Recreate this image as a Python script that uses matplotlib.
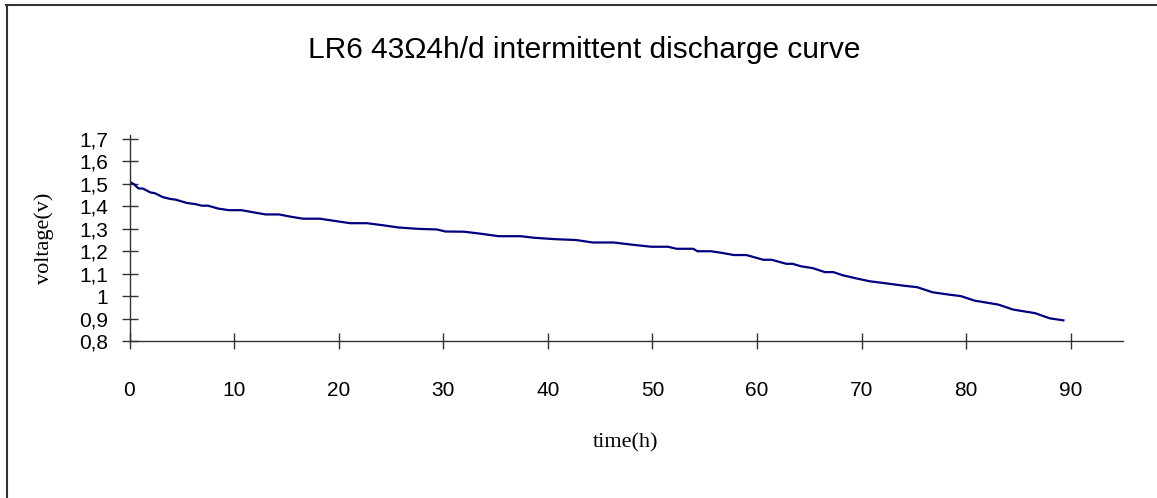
import matplotlib.pyplot as plt
from matplotlib.lines import Line2D

# discharge data
time_h = [0, 0.05, 0.4, 0.85, 1.3, 2.0, 2.4, 3.2, 3.9, 4.4, 5.5, 6.3, 6.9, 7.5,
          8.5, 9.5, 10.7, 11.9, 13.0, 14.3, 15.4, 16.6, 18.2, 19.5, 21.1, 22.7,
          24.2, 25.7, 27.5, 29.4, 30.2, 32.0, 33.6, 35.3, 37.4, 38.7, 40.6,
          42.7, 44.3, 46.3, 47.9, 49.9, 51.5, 52.3, 53.9, 54.3, 55.6, 56.6,
          57.8, 59.0, 60.6, 61.4, 62.8, 63.4, 64.2, 65.3, 66.5, 67.3, 68.2,
          69.3, 70.8, 72.5, 74.1, 75.3, 76.8, 78.3, 79.5, 80.8, 83.1, 84.5,
          86.6, 88.0, 89.3]
voltage = [1.60, 1.507, 1.50, 1.48, 1.479, 1.462, 1.459, 1.441, 1.433, 1.43,
           1.415, 1.41, 1.403, 1.403, 1.39, 1.383, 1.383, 1.373, 1.364, 1.364,
           1.354, 1.345, 1.345, 1.336, 1.325, 1.325, 1.316, 1.306, 1.30, 1.297,
           1.288, 1.287, 1.278, 1.267, 1.267, 1.26, 1.254, 1.25, 1.239, 1.239,
           1.23, 1.22, 1.22, 1.211, 1.211, 1.20, 1.20, 1.193, 1.183, 1.183,
           1.162, 1.162, 1.144, 1.144, 1.133, 1.125, 1.107, 1.107, 1.093,
           1.081, 1.066, 1.056, 1.046, 1.04, 1.017, 1.007, 1.0, 0.98, 0.962,
           0.94, 0.924, 0.901, 0.892]

x_ticks = [0, 10, 20, 30, 40, 50, 60, 70, 80, 90]
y_ticks = [0.8, 0.9, 1.0, 1.1, 1.2, 1.3, 1.4, 1.5, 1.6, 1.7]
y_tick_labels = ["0,8", "0,9", "1", "1,1", "1,2", "1,3", "1,4", "1,5", "1,6", "1,7"]

W, H = 1157, 498
fig = plt.figure(figsize=(W / 100, H / 100), dpi=100)

# frame of the chart area (only top and left edges show in the reference)
fig.add_artist(Line2D([6 / W, 1], [1 - 5.5 / H, 1 - 5.5 / H], color="#333333", lw=1.5))
fig.add_artist(Line2D([6.5 / W, 6.5 / W], [0, 1 - 5.5 / H], color="#333333", lw=1.5))

left, right = 129.5 / W, 1123 / W
bottom, top = 1 - 341 / H, 1 - 135 / H
ax = fig.add_axes([left, bottom, right - left, top - bottom])

ax.plot(time_h, voltage, color="#000080", lw=1.6, solid_joinstyle="round")

ax.set_xlim(0, 95)
ax.set_ylim(0.8, 1.718)
ax.set_xticks(x_ticks)
ax.set_yticks(y_ticks)
ax.set_yticklabels(y_tick_labels)

for side in ("top", "right"):
    ax.spines[side].set_visible(False)
for side in ("left", "bottom"):
    ax.spines[side].set_color("#333333")
    ax.spines[side].set_linewidth(1.0)

ax.tick_params(axis="both", direction="inout", color="#333333", width=1.0,
               labelsize=15)
ax.tick_params(axis="y", length=11, pad=10)
ax.tick_params(axis="x", length=11, pad=23)
for lbl in ax.get_xticklabels() + ax.get_yticklabels():
    lbl.set_fontfamily("Liberation Sans")

fig.text(584 / W, 1 - 49.5 / H, "LR6 43\u03a94h/d intermittent discharge curve",
         ha="center", va="center", fontsize=21.5, family="Liberation Sans")
fig.text(44 / W, 1 - 238 / H, "voltage(v)", rotation=90, ha="center",
         va="center", fontsize=16, family="Liberation Serif")
fig.text(626 / W, 1 - 443 / H, "time(h)", ha="center", va="center",
         fontsize=16, family="Liberation Serif")

fig.savefig("out.png", dpi=100)
